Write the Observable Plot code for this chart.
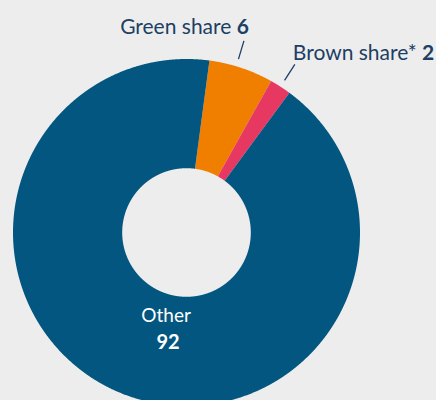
<!DOCTYPE html>
<html><head><meta charset="utf-8">
<script src="https://cdn.jsdelivr.net/npm/d3@7"></script>
<script src="https://cdn.jsdelivr.net/npm/@observablehq/plot@0.6"></script>
<style>
html,body{margin:0;padding:0;background:#ededed;}
#chart svg{display:block;}
</style></head>
<body><div id="chart"></div>
<script>
const categories = ["Green share", "Brown share*", "Other"];
const values = [6, 2, 92];
const valueLabels = ["6", "2", "92"];
const colors = ["#f07f00", "#e73862", "#02567f"];

const W = 436, H = 400;
const cx = 186, cy = 232, R = 173.5, r0 = 64.3;
const startDeg = 7.6;

const pie = d3.pie().sort(null).startAngle(startDeg * Math.PI / 180).endAngle(startDeg * Math.PI / 180 + 2 * Math.PI);
const arcs = pie(values);

// polygon points for each slice (data space: x right, y up, origin at center)
const pts = [];
arcs.forEach((a, i) => {
  const n = Math.max(8, Math.ceil((a.endAngle - a.startAngle) / 0.004));
  for (let k = 0; k <= n; k++) {
    const t = a.startAngle + (a.endAngle - a.startAngle) * k / n;
    pts.push({cat: categories[i], x: R * Math.sin(t), y: R * Math.cos(t)});
  }
  for (let k = n; k >= 0; k--) {
    const t = a.startAngle + (a.endAngle - a.startAngle) * k / n;
    pts.push({cat: categories[i], x: r0 * Math.sin(t), y: r0 * Math.cos(t)});
  }
});

const mid = a => (a.startAngle + a.endAngle) / 2;
const polar = (t, rr) => ({x: rr * Math.sin(t), y: rr * Math.cos(t)});

// leader lines for the two small slices
const leaders = [];
const outsideLabels = [];
[0, 1].forEach(i => {
  const t = mid(arcs[i]) - (i === 0 ? 0.03 : 0.0);
  const p1 = polar(t, 181), p2 = polar(t, 200);
  leaders.push({cat: categories[i], x1: p1.x, y1: p1.y, x2: p2.x, y2: p2.y});
  outsideLabels.push({text: categories[i] + " " + valueLabels[i], x: p2.x, y: p2.y, i});
});

// inside label for Other
const tOther = mid(arcs[2]) - 0.16;
const pOther = polar(tOther, 92);
const insideLabels = [{name: categories[2], value: valueLabels[2], x: pOther.x, y: pOther.y}];

const textColor = "#1c3f63";
const font = "Lato, 'Open Sans', sans-serif";

const chart = Plot.plot({
  width: W, height: H,
  margin: 0,
  x: {domain: [-cx, W - cx], axis: null},
  y: {domain: [cy - H, cy], axis: null},
  color: {domain: categories, range: colors},
  style: {background: "#ededed", fontFamily: font},
  marks: [
    Plot.line(pts, {x: "x", y: "y", z: "cat", fill: "cat", stroke: "none", curve: "linear-closed"}),
    Plot.link(leaders, {x1: "x1", y1: "y1", x2: "x2", y2: "y2", stroke: textColor, strokeWidth: 1.3}),
    Plot.text(outsideLabels.filter(d => d.i === 0), {x: "x", y: "y", text: "text", textAnchor: "end", lineAnchor: "bottom", dx: 5, dy: -7, fill: textColor, fontSize: 21, className: "splitlab"}),
    Plot.text(outsideLabels.filter(d => d.i === 1), {x: "x", y: "y", text: "text", textAnchor: "start", lineAnchor: "bottom", dx: -2, dy: -4, fill: textColor, fontSize: 21, className: "splitlab"}),
    Plot.text(insideLabels, {x: "x", y: "y", text: "name", fill: "white", fontSize: 19, lineAnchor: "bottom", dx: 0, dy: 0}),
    Plot.text(insideLabels, {x: "x", y: "y", text: "value", fill: "white", fontSize: 20, fontWeight: "bold", lineAnchor: "bottom", dx: 2, dy: 27})
  ]
});

d3.select(chart).selectAll("g.splitlab text").each(function () {
  const t = this.textContent;
  const j = t.lastIndexOf(" ");
  this.textContent = t.slice(0, j + 1);
  d3.select(this).append("tspan").attr("font-weight", "bold").text(t.slice(j + 1));
});

document.getElementById("chart").appendChild(chart);
</script>
</body></html>
